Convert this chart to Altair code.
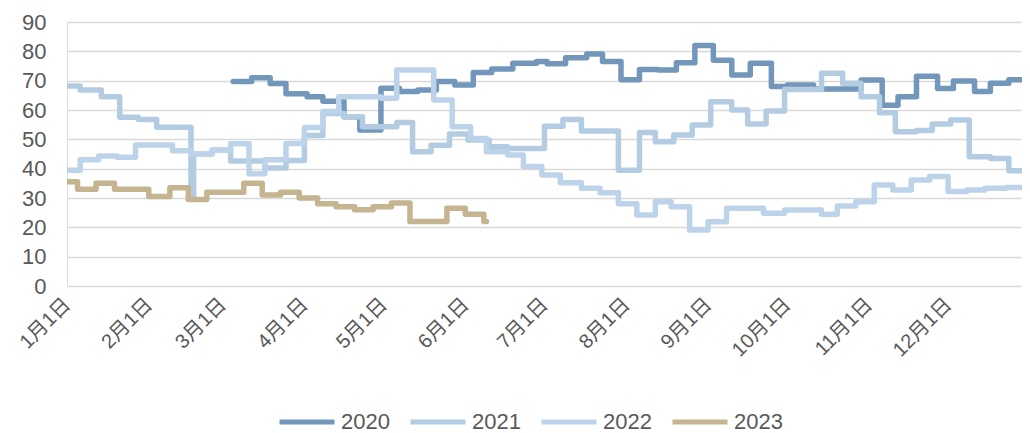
import altair as alt
import pandas as pd

years = ["2020", "2021", "2022", "2023"]
colors = ["#7397BA", "#B4CCE2", "#BDD3EA", "#C4B48F"]

month_days = [0, 31, 59, 90, 120, 151, 181, 212, 243, 273, 304, 334]
month_labels = ["1月1日", "2月1日", "3月1日", "4月1日", "5月1日", "6月1日",
                "7月1日", "8月1日", "9月1日", "10月1日", "11月1日", "12月1日"]

days_2020 = [63, 70, 77, 83, 91, 97, 105, 111, 119, 126, 133, 140, 147, 154, 161, 169, 178,
             182, 189, 197, 203, 210, 217, 224, 231, 238, 245, 252, 259, 267, 273, 283, 301,
             309, 315, 322, 330, 336, 344, 350, 357, 364, 365]
vals_2020 = [69.7, 71, 69, 65.5, 64.5, 63, 57.7, 53.2, 67.4, 66.3, 66.8, 69.7, 68.5, 72.8, 74,
             75.9, 76.5, 75.8, 77.8, 79.1, 76.5, 70.3, 73.8, 73.6, 76.1, 82, 77, 71.9, 75.9, 68,
             68.5, 67.2, 70.2, 61.6, 64.5, 71.5, 67.3, 69.9, 66.3, 69.1, 70.3, 68, 68]

days_2021 = [0, 5, 13, 20, 27, 34, 47, 48, 55, 62, 69, 75, 83, 90, 97, 105, 112, 125, 131,
             138, 145, 152, 160, 167, 181, 188, 195, 209, 217, 223, 230, 237, 244, 252, 258,
             265, 272, 286, 294, 301, 308, 314, 322, 328, 335, 342, 350, 357, 363, 365]
vals_2021 = [68.2, 66.8, 64.5, 57.5, 56.8, 54.1, 30, 45, 46.4, 42.6, 42.6, 40.2, 42.8, 51.3,
             58.8, 57.7, 54.3, 55.7, 45.8, 48, 51.8, 49.8, 47.5, 46.9, 54.5, 56.8, 52.8, 39.5,
             52.3, 49.2, 51.5, 54.9, 62.8, 60, 55.2, 59.7, 67, 72.5, 69.1, 64.5, 59.1, 52.6, 53,
             55.2, 56.6, 44.1, 43.5, 39.3, 40, 40]

days_2022 = [0, 5, 12, 19, 26, 40, 47, 55, 62, 69, 75, 83, 90, 97, 103, 119, 125, 139, 146,
             153, 159, 167, 173, 180, 187, 195, 202, 209, 216, 223, 229, 236, 243, 250, 264,
             272, 286, 292, 299, 306, 313, 320, 327, 334, 341, 348, 356, 363, 365]
vals_2022 = [39.5, 43, 44.3, 43.9, 48.1, 46.1, 45, 46.4, 48.5, 38.3, 43, 48.6, 54, 59.5, 64.5,
             64, 73.6, 63.4, 54.3, 50.3, 45.8, 44.7, 40.7, 37.8, 35.2, 33.3, 31.8, 28, 24.2,
             28.7, 27, 19.1, 21.9, 26.5, 24.8, 25.9, 24.5, 27.3, 28.7, 34.4, 32.7, 36.1, 37.3,
             32.2, 32.7, 33.3, 33.6, 35.6, 35.6]

days_2023 = [0, 4, 11, 18, 31, 39, 46, 53, 67, 74, 81, 88, 95, 102, 109, 116, 123, 130, 144,
             151, 158, 159]
vals_2023 = [35.5, 33, 35, 33, 30.5, 33.5, 29.5, 32, 35, 31, 32, 30, 28, 27, 26, 27, 28.3, 22,
             26.5, 24.5, 22, 22]

series = {
    "2020": (days_2020, vals_2020),
    "2021": (days_2021, vals_2021),
    "2022": (days_2022, vals_2022),
    "2023": (days_2023, vals_2023),
}

rows = []
for i, y in enumerate(years):
    ds, vs = series[y]
    for d, v in zip(ds, vs):
        rows.append({"day": d, "value": v, "year": y, "k": i})
df = pd.DataFrame(rows)

FONT = "Liberation Sans, Noto Sans CJK SC, sans-serif"
label_expr = ("[" + ",".join("'%s'" % s for s in month_labels) + "][indexof(["
              + ",".join(str(d) for d in month_days) + "], datum.value)]")

chart = alt.Chart(df).mark_line(
    interpolate="step-after", strokeWidth=5.5, strokeJoin="round", strokeCap="round", clip=True
).encode(
    x=alt.X("day:Q", scale=alt.Scale(domain=[0, 362], nice=False, zero=False),
            axis=alt.Axis(values=month_days, labelExpr=label_expr, labelAngle=-45,
                          labelAlign="right", labelBaseline="middle", labelFontSize=20,
                          labelColor="#595959", labelPadding=15, ticks=False, tickSize=0,
                          domain=False, grid=False, title=None, labelOverlap=False,
                          labelFlush=False, labelBound=False, labelFont=FONT)),
    y=alt.Y("value:Q", scale=alt.Scale(domain=[0, 90], nice=False),
            axis=alt.Axis(values=list(range(0, 91, 10)), grid=True, gridColor="#D9D9D9",
                          gridWidth=1.5, ticks=False, tickSize=0, domain=False,
                          labelFontSize=22, labelColor="#595959", labelPadding=21,
                          title=None, labelFont=FONT)),
    color=alt.Color("year:N", scale=alt.Scale(domain=years, range=colors),
                    legend=alt.Legend(orient="none", legendX=210, legendY=370,
                                      direction="horizontal", columns=4, title=None,
                                      symbolType="stroke", symbolSize=3025,
                                      symbolStrokeWidth=5, labelFontSize=22,
                                      labelColor="#595959", labelOffset=4,
                                      columnPadding=10, padding=0, labelFont=FONT)),
    order=alt.Order("day:Q"),
).properties(
    width=955, height=264,
    padding={"left": 59, "top": 14, "right": 0, "bottom": 147},
    autosize=alt.AutoSizeParams(type="none"),
).configure_view(stroke=None).configure(background="white")

chart.save("out.html", embed_options={"renderer": "svg", "actions": False})
